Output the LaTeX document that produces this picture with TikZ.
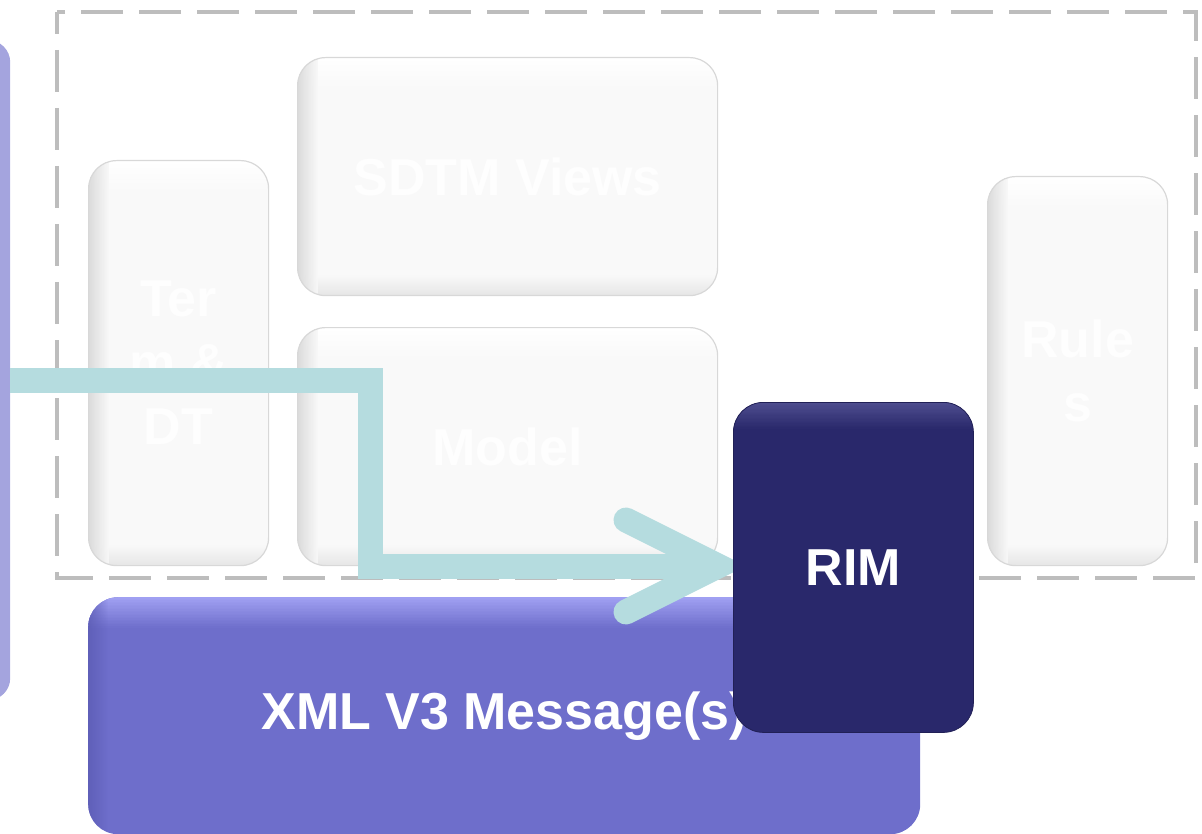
\documentclass[tikz,border=0pt]{standalone}
\usepackage{fontspec}
\setmainfont{Liberation Sans}
\definecolor{leftpurple}{HTML}{A4A4DE}
\definecolor{xmlfill}{HTML}{6E6ECB}
\definecolor{xmltop}{HTML}{A0A0F2}
\definecolor{xmlleft}{HTML}{5C5CB4}
\definecolor{rimfill}{HTML}{29286B}
\definecolor{rimtop}{HTML}{4E4D8E}
\definecolor{arrowteal}{HTML}{B5DCDF}
\definecolor{dashgray}{HTML}{BDBDBD}
\definecolor{boxwhite}{HTML}{F9F9F9}
\definecolor{boxedge}{HTML}{D8D8D8}
\definecolor{boxshade}{HTML}{D9D9D9}
\definecolor{faintwhite}{HTML}{FEFEFE}
\begin{document}
\begin{tikzpicture}[x=1pt,y=1pt,
  bigfont/.style={font=\fontsize{52}{64}\selectfont\bfseries},
  glassbox/.style={anchor=north west, rounded corners=28pt, fill=boxwhite,
    draw=boxedge, line width=1.2pt, bigfont, text=faintwhite, align=center, inner sep=0pt,
    path picture={
      \foreach \k in {0,...,19}{
        \pgfmathtruncatemacro\p{100-5*\k}
        \fill[sharp corners, white!\p!boxwhite]
          ([yshift=-1.5*\k pt]path picture bounding box.north west) rectangle
          ([yshift=-1.5*\k pt-1.8pt]path picture bounding box.north east);
      }
      \foreach \k in {0,...,19}{
        \pgfmathtruncatemacro\q{60-3*\k}
        \fill[sharp corners, boxshade!\q!boxwhite]
          ([yshift=\k pt]path picture bounding box.south west) rectangle
          ([yshift=\k pt+1.2pt]path picture bounding box.south east);
      }
      \foreach \k in {0,...,19}{
        \pgfmathtruncatemacro\p{100-5*\k}
        \fill[sharp corners, boxshade!\p!boxwhite, opacity=0.9]
          ([xshift=\k pt]path picture bounding box.north west) rectangle
          ([xshift=\k pt+1.2pt]path picture bounding box.south west);
      }
    }},
  arrowline/.style={draw=arrowteal, line width=25pt},
  armline/.style={draw=arrowteal, line width=25pt, line cap=round, line join=miter}
]
\useasboundingbox (0,-834) rectangle (1202,0);

% left partial box
\node[anchor=north west, minimum width=60pt, minimum height=660pt, fill=leftpurple,
  rounded corners=22pt, inner sep=0pt] (leftbox) at (-50,-40) {};

% dashed frame
\draw[dashgray, line width=4.5pt, dash pattern=on 42pt off 16pt, dash phase=20pt]
  (57,-12) rectangle (1196,-578);

% white boxes
\node[glassbox, minimum width=180pt, minimum height=405pt] (term) at (88,-160) {Ter\\m \&\\DT};
\node[glassbox, minimum width=420pt, minimum height=238pt] (sdtm) at (297,-57) {SDTM Views};
\node[glassbox, minimum width=420pt, minimum height=238pt] (model) at (297,-327) {Model};
\node[glassbox, minimum width=180pt, minimum height=389pt] (rules) at (987,-176) {Rule\\s};

% XML box
\node[anchor=north west, minimum width=832pt, minimum height=237pt, fill=xmlfill,
  rounded corners=30pt, inner sep=0pt, bigfont, text=white,
  path picture={
    \foreach \k in {0,...,19}{
      \pgfmathtruncatemacro\p{100-5*\k}
      \fill[sharp corners, xmltop!\p!xmlfill]
        ([yshift=-1.5*\k pt]path picture bounding box.north west) rectangle
        ([yshift=-1.5*\k pt-1.8pt]path picture bounding box.north east);
    }
    \foreach \k in {0,...,19}{
      \pgfmathtruncatemacro\q{80-4*\k}
      \fill[sharp corners, xmlleft, opacity=\q/100]
        ([xshift=\k pt]path picture bounding box.north west) rectangle
        ([xshift=\k pt+1.2pt]path picture bounding box.south west);
    }
  }] (xml) at (88,-597) {XML V3 Message(s)};

% teal arrow
\coordinate (bend) at (370,-380);
\coordinate (tip) at (718,-566);
\draw[arrowline] (leftbox.east |- bend) -- (bend) -- (bend |- tip) -- (tip);
\draw[armline] ([shift={(-92,46)}]tip) -- (tip) -- ([shift={(-92,-46)}]tip);

% RIM box
\node[anchor=north west, minimum width=240pt, minimum height=330pt, fill=rimfill,
  draw=rimfill!80!black, line width=0.8pt,
  rounded corners=30pt, inner sep=0pt, bigfont, text=white,
  path picture={
    \foreach \k in {0,...,19}{
      \pgfmathtruncatemacro\p{100-5*\k}
      \fill[sharp corners, rimtop!\p!rimfill]
        ([yshift=-1.3*\k pt]path picture bounding box.north west) rectangle
        ([yshift=-1.3*\k pt-1.6pt]path picture bounding box.north east);
    }
  }] (rim) at (733,-402) {RIM};
\end{tikzpicture}
\end{document}
